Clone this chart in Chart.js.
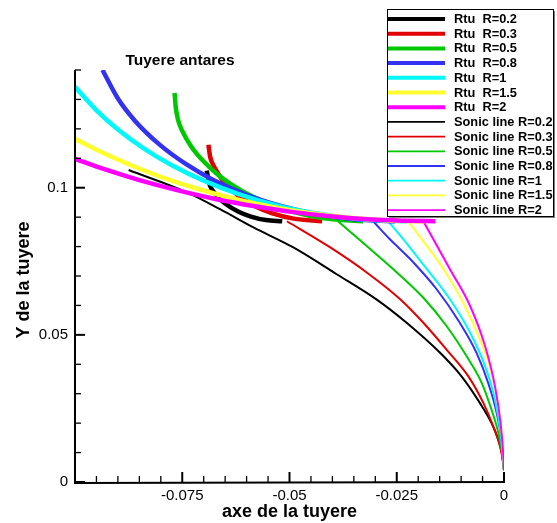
<!DOCTYPE html>
<html><head><meta charset="utf-8">
<script src="https://cdn.jsdelivr.net/npm/chart.js@4.4.1/dist/chart.umd.min.js"></script>
<style>html,body{margin:0;padding:0;background:#fff;}#wrap{width:557px;height:523px;}</style>
</head><body><div id="wrap"><canvas id="c" width="557" height="523"></canvas></div>
<script>
// ---- data (x = axe de la tuyere, y = Y de la tuyere) ----
const rtuR02 = [[-0.0693,0.1058],[-0.0686,0.1010],[-0.0670,0.0974],[-0.0650,0.0946],[-0.0620,0.0919],[-0.0590,0.0902],[-0.0555,0.0890],[-0.0517,0.0886]];
const rtuR03 = [[-0.0689,0.1146],[-0.0685,0.1105],[-0.0677,0.1075],[-0.0665,0.1045],[-0.0650,0.1015],[-0.0620,0.0974],[-0.0580,0.0937],[-0.0540,0.0913],[-0.0490,0.0895],[-0.0424,0.0886]];
const rtuR05 = [[-0.0768,0.1322],[-0.0765,0.1272],[-0.0760,0.1232],[-0.0750,0.1193],[-0.0730,0.1142],[-0.0700,0.1089],[-0.0660,0.1036],[-0.0610,0.0988],[-0.0550,0.0947],[-0.0490,0.0917],[-0.0420,0.0896],[-0.0328,0.0886]];
const rtuR08 = [[-0.0936,0.1400],[-0.0900,0.1303],[-0.0860,0.1227],[-0.0800,0.1143],[-0.0740,0.1079],[-0.0680,0.1028],[-0.0600,0.0976],[-0.0520,0.0938],[-0.0440,0.0911],[-0.0350,0.0893],[-0.0254,0.0886]];
const rtuR1  = [[-0.1000,0.1343],[-0.0950,0.1263],[-0.0900,0.1198],[-0.0840,0.1134],[-0.0770,0.1073],[-0.0700,0.1024],[-0.0620,0.0979],[-0.0530,0.0940],[-0.0440,0.0913],[-0.0340,0.0894],[-0.0225,0.0886]];
const rtuR15 = [[-0.1000,0.1166],[-0.0950,0.1129],[-0.0880,0.1083],[-0.0800,0.1037],[-0.0720,0.0999],[-0.0630,0.0963],[-0.0540,0.0935],[-0.0450,0.0913],[-0.0360,0.0898],[-0.0270,0.0889],[-0.0184,0.0886]];
const rtuR2  = [[-0.1000,0.1098],[-0.0930,0.1062],[-0.0850,0.1026],[-0.0760,0.0991],[-0.0670,0.0961],[-0.0580,0.0937],[-0.0490,0.0917],[-0.0400,0.0902],[-0.0310,0.0892],[-0.0235,0.0888],[-0.0160,0.0886]];

const sonicR02 = [[-0.0875,0.1060],[-0.0739,0.0984],[-0.0662,0.0927],[-0.0584,0.0865],[-0.0491,0.0797],[-0.0390,0.0706],[-0.0295,0.0618],[-0.0227,0.0541],[-0.0149,0.0439],[-0.0099,0.0359],[-0.0056,0.0268],[-0.0029,0.0200],[-0.0013,0.0143],[-0.0005,0.0098],[0,0.0040]];
const sonicR03 = [[-0.0506,0.0886],[-0.0405,0.0797],[-0.0320,0.0712],[-0.0242,0.0621],[-0.0188,0.0541],[-0.0134,0.0450],[-0.0083,0.0359],[-0.0048,0.0268],[-0.0025,0.0189],[-0.0009,0.0120],[-0.0003,0.0075],[0,0.0040]];
const sonicR05 = [[-0.0387,0.0886],[-0.0320,0.0802],[-0.0258,0.0723],[-0.0188,0.0626],[-0.0134,0.0530],[-0.0087,0.0427],[-0.0052,0.0337],[-0.0029,0.0245],[-0.0013,0.0166],[-0.0003,0.0086],[0,0.0040]];
const sonicR08 = [[-0.0305,0.0886],[-0.0266,0.0825],[-0.0242,0.0791],[-0.0211,0.0746],[-0.0157,0.0655],[-0.0103,0.0541],[-0.0064,0.0439],[-0.0037,0.0337],[-0.0017,0.0234],[-0.0005,0.0132],[0,0.0040]];
const sonicR1  = [[-0.0270,0.0886],[-0.0235,0.0825],[-0.0189,0.0740],[-0.0126,0.0621],[-0.0079,0.0507],[-0.0044,0.0393],[-0.0021,0.0280],[-0.0008,0.0166],[0,0.0040]];
const sonicR15 = [[-0.0223,0.0886],[-0.0192,0.0825],[-0.0141,0.0723],[-0.0095,0.0609],[-0.0056,0.0484],[-0.0029,0.0371],[-0.0013,0.0257],[-0.0004,0.0143],[0,0.0040]];
const sonicR2  = [[-0.0188,0.0886],[-0.0126,0.0723],[-0.0079,0.0598],[-0.0044,0.0461],[-0.0021,0.0325],[-0.0008,0.0200],[-0.0002,0.0098],[0,0.0040]];

const rtuLabels = ['Rtu  R=0.2','Rtu  R=0.3','Rtu  R=0.5','Rtu  R=0.8','Rtu  R=1','Rtu  R=1.5','Rtu  R=2'];
const sonicLabels = ['Sonic line R=0.2','Sonic line R=0.3','Sonic line R=0.5','Sonic line R=0.8','Sonic line R=1','Sonic line R=1.5','Sonic line R=2'];
const xTicks = [-0.075, -0.05, -0.025, 0];
const xTickLabels = ['-0.075', '-0.05', '-0.025', '0'];
const yTicks = [0, 0.05, 0.1];
const yTickLabels = ['0', '0.05', '0.1'];
const chartTitle = 'Tuyere antares';
const xTitle = 'axe de la tuyere';
const yTitle = 'Y de la tuyere';

// ---- styles ----
const colors = ['#000000','#e00000','#00c800','#3232f0','#00f8f8','#ffff30','#ff00ff'];
const FONT = '"Liberation Sans", Arial, Helvetica, sans-serif';

const rtuSeries = [rtuR02, rtuR03, rtuR05, rtuR08, rtuR1, rtuR15, rtuR2];
const sonicSeries = [sonicR02, sonicR03, sonicR05, sonicR08, sonicR1, sonicR15, sonicR2];
const toPts = a => a.map(p => ({x: p[0], y: p[1]}));

const datasets = [];
rtuSeries.forEach((s, i) => datasets.push({
  label: rtuLabels[i], data: toPts(s), borderColor: colors[i], backgroundColor: colors[i],
  borderWidth: 4.5, pointRadius: 0, fill: false, cubicInterpolationMode: 'monotone', order: 6 - i, kind: 'rtu'
}));
sonicSeries.forEach((s, i) => datasets.push({
  label: sonicLabels[i], data: toPts(s), borderColor: colors[i], backgroundColor: colors[i],
  borderWidth: 2, pointRadius: 0, fill: false, cubicInterpolationMode: 'monotone', order: 20 - i, kind: 'sonic'
}));

const deco = {
  id: 'deco',
  afterDatasetsDraw(chart) {
    const ctx = chart.ctx, xs = chart.scales.x, ys = chart.scales.y, a = chart.chartArea;
    ctx.save();
    ctx.strokeStyle = '#000'; ctx.lineWidth = 2; ctx.lineCap = 'butt';
    ctx.beginPath(); ctx.moveTo(a.left, a.top); ctx.lineTo(a.left, a.bottom + 1); ctx.lineTo(a.right + 1, a.bottom); ctx.stroke();
    for (let i = 0; i <= 20; i++) {
      const v = xs.min + i * 0.005;
      const major = xTicks.some(t => Math.abs(t - v) < 1e-9);
      const p = xs.getPixelForValue(v);
      ctx.lineWidth = major ? 2 : 1.3;
      ctx.beginPath(); ctx.moveTo(p, a.bottom); ctx.lineTo(p, a.bottom - (major ? 10 : 6)); ctx.stroke();
    }
    for (let i = 0; i <= 14; i++) {
      const v = i * 0.01;
      const major = yTicks.some(t => Math.abs(t - v) < 1e-9);
      const p = ys.getPixelForValue(v);
      ctx.lineWidth = major ? 2 : 1.3;
      ctx.beginPath(); ctx.moveTo(a.left, p); ctx.lineTo(a.left + (major ? 10 : 6), p); ctx.stroke();
    }
    ctx.fillStyle = '#000';
    ctx.textAlign = 'center'; ctx.textBaseline = 'middle';
    ctx.font = 'bold 15.5px ' + FONT;
    ctx.fillText(chartTitle, 180, 61);
    ctx.font = 'bold 18px ' + FONT;
    ctx.fillText(xTitle, (a.left + a.right) / 2, 512);
    ctx.save(); ctx.translate(24, (a.top + a.bottom) / 2 + 4); ctx.rotate(-Math.PI / 2);
    ctx.fillText(yTitle, 0, 0); ctx.restore();
    const lx = 387, ly = 9, lw = 166, lh = 207;
    ctx.fillStyle = '#fff'; ctx.fillRect(lx, ly, lw, lh);
    ctx.strokeStyle = '#808080'; ctx.lineWidth = 2;
    ctx.beginPath(); ctx.moveTo(lx + lw + 1, ly + 2); ctx.lineTo(lx + lw + 1, ly + lh + 1); ctx.lineTo(lx + 2, ly + lh + 1); ctx.stroke();
    ctx.strokeStyle = '#000'; ctx.lineWidth = 1;
    ctx.strokeRect(lx + 0.5, ly + 0.5, lw, lh);
    ctx.font = 'bold 12.8px ' + FONT; ctx.textAlign = 'left'; ctx.textBaseline = 'middle';
    chart.data.datasets.forEach((d, i) => {
      const y = 19 + i * 14.7;
      ctx.strokeStyle = d.borderColor; ctx.lineWidth = d.kind === 'rtu' ? 4 : 1.8;
      ctx.beginPath(); ctx.moveTo(lx + 1, y); ctx.lineTo(445, y); ctx.stroke();
      ctx.fillStyle = '#000'; ctx.fillText(d.label, 454, y + 0.5);
    });
    ctx.restore();
  }
};

new Chart(document.getElementById('c'), {
  type: 'line',
  data: { datasets },
  options: {
    responsive: false, animation: false, devicePixelRatio: 1,
    layout: { padding: { top: 70, right: 53, left: 0, bottom: 0 } },
    plugins: { legend: { display: false }, tooltip: { enabled: false }, title: { display: false } },
    scales: {
      x: {
        type: 'linear', min: -0.1, max: 0,
        grid: { display: false, drawTicks: false }, border: { display: false },
        afterBuildTicks: s => { s.ticks = xTicks.map(v => ({ value: v })); },
        afterFit: s => { s.height = 41; },
        ticks: { color: '#000', font: { family: FONT, size: 15 }, padding: 5, maxRotation: 0, autoSkip: false,
          callback: (v) => { const k = xTicks.findIndex(t => Math.abs(t - v) < 1e-9); return k >= 0 ? xTickLabels[k] : ''; } }
      },
      y: {
        type: 'linear', min: 0, max: 0.14,
        grid: { display: false, drawTicks: false }, border: { display: false },
        afterBuildTicks: s => { s.ticks = yTicks.map(v => ({ value: v })); },
        afterFit: s => { s.width = 75; },
        ticks: { color: '#000', font: { family: FONT, size: 15 }, padding: 7, autoSkip: false,
          callback: (v) => { const k = yTicks.findIndex(t => Math.abs(t - v) < 1e-9); return k >= 0 ? yTickLabels[k] : ''; } }
      }
    }
  },
  plugins: [deco]
});
</script></body></html>
